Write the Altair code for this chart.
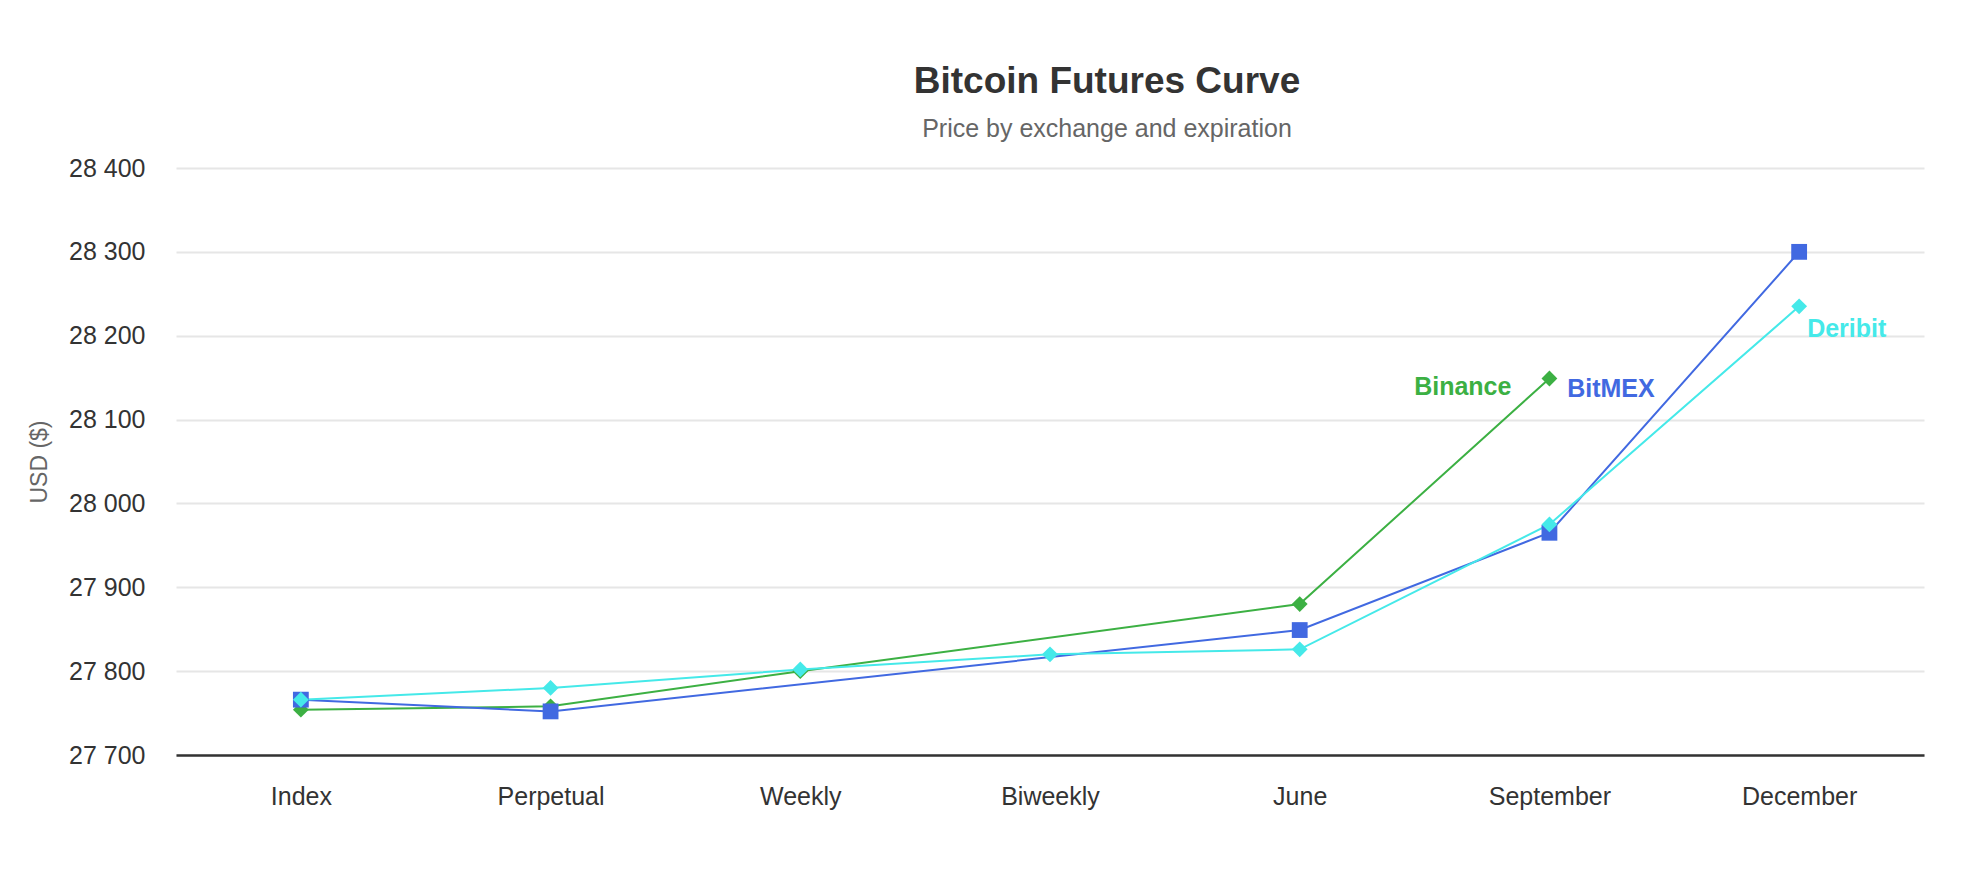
import altair as alt
import pandas as pd

categories = ["Index", "Perpetual", "Weekly", "Biweekly", "June", "September", "December"]
series_names = ["Binance", "BitMEX", "Deribit"]
binance = [27754, 27758, 27800, None, 27880, 28149, None]
bitmex = [27766, 27752, None, None, 27849, 27965, 28300]
deribit = [27766, 27780, 27802, 27820, 27826, 27975, 28235]
colors = ["#3cb043", "#4169e1", "#45e9e9"]
shapes = ["diamond", "square", "diamond"]
y_ticks = [27700, 27800, 27900, 28000, 28100, 28200, 28300, 28400]

rows = []
for i, (name, vals) in enumerate(zip(series_names, [binance, bitmex, deribit])):
    for cat, v in zip(categories, vals):
        if v is not None:
            rows.append({"series": name, "category": cat, "price": v, "order": i})
df = pd.DataFrame(rows)

FONT = "Liberation Sans"

x_enc = alt.X("category:N", sort=categories,
              scale=alt.Scale(type="point", padding=0.5),
              axis=alt.Axis(title=None, labelAngle=0, labelFontSize=25, labelColor="#333333",
                            labelFont=FONT, labelPadding=29, ticks=False,
                            domainColor="#333333", domainWidth=2.5, grid=False))
y_enc = alt.Y("price:Q",
              scale=alt.Scale(domain=[27700, 28400], nice=False, zero=False),
              axis=alt.Axis(title="USD ($)", titleFontSize=23, titleColor="#666666",
                            titleFont=FONT, titleFontWeight="normal", titlePadding=17,
                            values=y_ticks, labelFontSize=25, labelColor="#333333",
                            labelFont=FONT, labelPadding=31, ticks=False, domain=False,
                            gridColor="#e6e6e6", gridWidth=2,
                            labelExpr="replace(format(datum.value, ','), ',', ' ')"))
color_enc = alt.Color("series:N", scale=alt.Scale(domain=series_names, range=colors), legend=None)
shape_enc = alt.Shape("series:N", scale=alt.Scale(domain=series_names, range=shapes), legend=None)

base = alt.Chart(df)
lines = base.mark_line(strokeWidth=2).encode(x=x_enc, y=y_enc, color=color_enc, detail="series:N")
points = base.mark_point(filled=True, size=250, opacity=1).encode(
    x=x_enc, y=y_enc, color=color_enc, shape=shape_enc, order=alt.Order("order:Q"))

last = df.groupby("series").tail(1)
def label(name, dx, dy, align):
    return alt.Chart(last[last["series"] == name]).mark_text(
        align=align, baseline="middle", dx=dx, dy=dy, fontSize=25, fontWeight="bold", font=FONT
    ).encode(x=alt.X("category:N", sort=categories), y="price:Q", text="series:N", color=color_enc)

labels = [label("Binance", -38, 9, "right"), label("BitMEX", -232, 137, "left"),
          label("Deribit", 8, 23, "left")]

chart = alt.layer(lines, points, *labels).properties(
    width=1748, height=587,
    title=alt.Title("Bitcoin Futures Curve", subtitle="Price by exchange and expiration",
                    fontSize=37, fontWeight="bold", color="#333333", font=FONT,
                    subtitleFont=FONT, subtitleFontSize=25, subtitleColor="#666666",
                    anchor="middle", frame="group", dx=57, offset=13, subtitlePadding=16),
    padding={"left": 168, "top": 160, "right": 30, "bottom": 100},
    autosize=alt.AutoSizeParams(type="none"),
    background="white",
).configure_view(stroke=None)

chart.save("out.html", embed_options={"renderer": "svg", "actions": False})
